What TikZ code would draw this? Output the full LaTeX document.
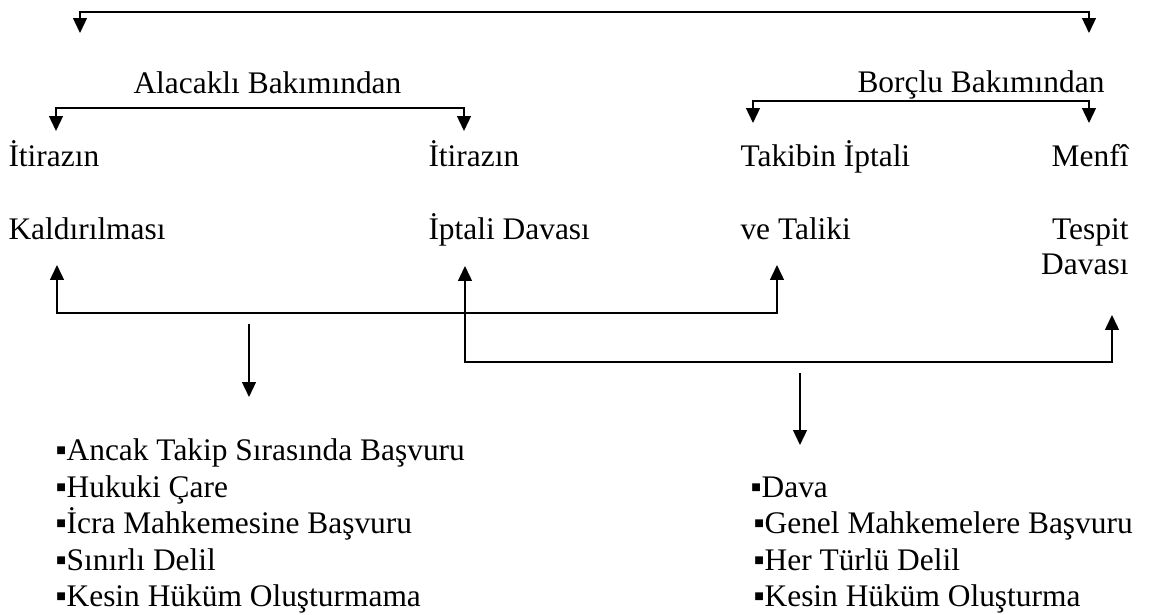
\documentclass[tikz,border=0pt]{standalone}
\usepackage{fontspec}
\setmainfont{Liberation Serif}
\usetikzlibrary{arrows.meta}
\tikzset{%
  term/.style={anchor=base west, inner sep=0pt, font=\fontsize{12}{14}\selectfont},
  rterm/.style={term, anchor=base east},
  entry/.style={term},
  arr/.style={draw, line width=0.6pt, -{Triangle[width=5.3pt, length=5.7pt]}},
  link/.style={draw, line width=0.6pt, {Triangle[width=5.3pt, length=5.7pt]}-{Triangle[width=5.3pt, length=5.7pt]}}}

\begin{document}
\begin{tikzpicture}[x=0.382pt, y=-0.382pt]
    \useasboundingbox (0,0) rectangle (1155,615);
    % Headings
    \node (alacakli) [term] at (133,94) {Alacaklı Bakımından};
    \node (borclu) [term] at (857,93) {Borçlu Bakımından};
    % Remedies
    \node (itirazA) [term] at (8,167) {İtirazın};
    \node (kaldir) [term] at (8,240) {Kaldırılması};
    \node (itirazB) [term] at (428,167) {İtirazın};
    \node (iptal) [term] at (428,240) {İptali Davası};
    \node (takibin) [term] at (740,167) {Takibin İptali};
    \node (taliki) [term] at (740,240) {ve Taliki};
    \node (menfi) [rterm] at (1129,167) {Menfî};
    \node (tespit) [rterm] at (1129,240) {Tespit};
    \node (davasi) [rterm] at (1129,275) {Davası};
    % Features of the first pair
    \node (ancak) [entry] at (55,461) {▪Ancak Takip Sırasında Başvuru};
    \node (hukuki) [entry] at (55,497.4) {▪Hukuki Çare};
    \node (icra) [entry] at (55,533.8) {▪İcra Mahkemesine Başvuru};
    \node (sinirli) [entry] at (55,570.2) {▪Sınırlı Delil};
    \node (kesinA) [entry] at (55,606.6) {▪Kesin Hüküm Oluşturmama};
    % Features of the second pair
    \node (dava) [entry] at (750,497.4) {▪Dava};
    \node (genel) [entry] at (753,533.8) {▪Genel Mahkemelere Başvuru};
    \node (her) [entry] at (753,570.2) {▪Her Türlü Delil};
    \node (kesinB) [entry] at (753,606.6) {▪Kesin Hüküm Oluşturma};
    % Bracket ends
    \coordinate (topL) at (80,33);
    \coordinate (topM) at (584,12);
    \coordinate (topR) at (1089,33);
    \coordinate (alaL) at (56,131);
    \coordinate (alaM) at (260,108);
    \coordinate (alaR) at (464,131);
    \coordinate (borL) at (753,123);
    \coordinate (borM) at (921,101);
    \coordinate (borR) at (1089,123);
    \coordinate (oneL) at (57,265);
    \coordinate (oneM) at (417,313);
    \coordinate (oneR) at (777,265);
    \coordinate (twoL) at (465,266);
    \coordinate (twoM) at (788,362);
    \coordinate (twoR) at (1112,315);
    \coordinate (downA) at (249,324);
    \coordinate (tipA) at (249,397);
    \coordinate (downB) at (800,373);
    \coordinate (tipB) at (800,445);
    % Brackets
    \draw[link] (topL) |- (topM) -| (topR);
    \draw[link] (alaL) |- (alaM) -| (alaR);
    \draw[link] (borL) |- (borM) -| (borR);
    \draw[link] (oneL) |- (oneM) -| (oneR);
    \draw[link] (twoL) |- (twoM) -| (twoR);
    % Arrows to the lists
    \draw[arr] (downA) -- (tipA);
    \draw[arr] (downB) -- (tipB);
\end{tikzpicture}
\end{document}
